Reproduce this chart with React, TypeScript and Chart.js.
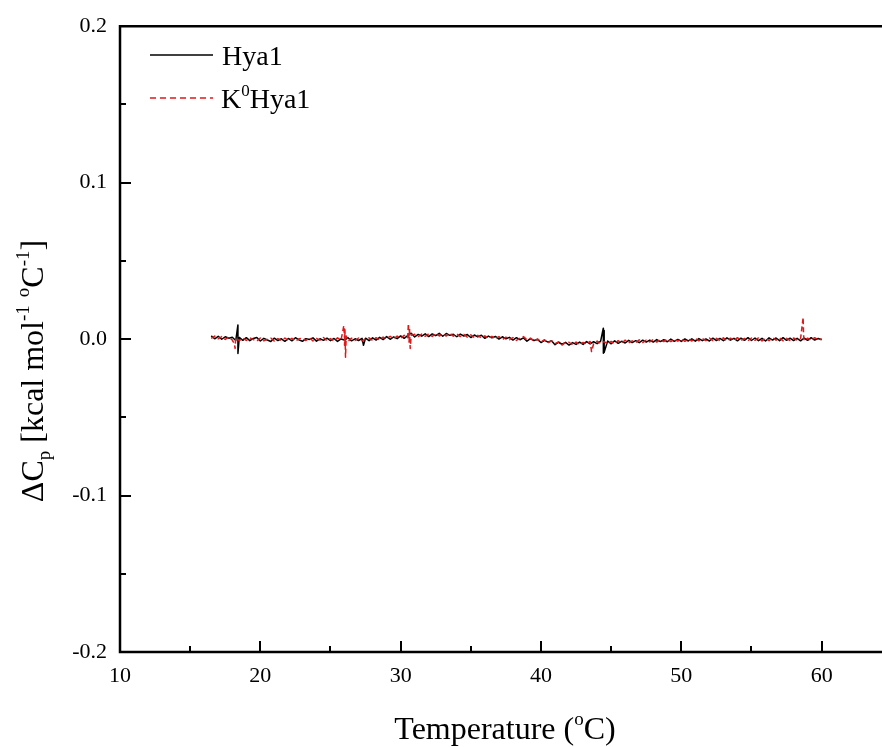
import React, { useEffect, useRef } from "react";
import { Chart, registerables } from "chart.js";

Chart.register(...registerables);

// ---------- data (ΔCp in 10^-3 kcal mol^-1 °C^-1, converted when building) ----------
const temps = [
  16.5, 16.75,
  17, 17.25, 17.5, 17.75, 18, 18.25, 18.5, 18.75, 19, 19.25, 19.5, 19.75,
  20, 20.25, 20.5, 20.75, 21, 21.25, 21.5, 21.75, 22, 22.25, 22.5, 22.75,
  23, 23.25, 23.5, 23.75, 24, 24.25, 24.5, 24.75, 25, 25.25, 25.5, 25.75,
  26, 26.25, 26.5, 26.75, 27, 27.25, 27.5, 27.75, 28, 28.25, 28.5, 28.75,
  29, 29.25, 29.5, 29.75, 30, 30.25, 30.5, 30.75, 31, 31.25, 31.5, 31.75,
  32, 32.25, 32.5, 32.75, 33, 33.25, 33.5, 33.75, 34, 34.25, 34.5, 34.75,
  35, 35.25, 35.5, 35.75, 36, 36.25, 36.5, 36.75, 37, 37.25, 37.5, 37.75,
  38, 38.25, 38.5, 38.75, 39, 39.25, 39.5, 39.75, 40, 40.25, 40.5, 40.75,
  41, 41.25, 41.5, 41.75, 42, 42.25, 42.5, 42.75, 43, 43.25, 43.5, 43.75,
  44, 44.25, 44.5, 44.75, 45, 45.25, 45.5, 45.75, 46, 46.25, 46.5, 46.75,
  47, 47.25, 47.5, 47.75, 48, 48.25, 48.5, 48.75, 49, 49.25, 49.5, 49.75,
  50, 50.25, 50.5, 50.75, 51, 51.25, 51.5, 51.75, 52, 52.25, 52.5, 52.75,
  53, 53.25, 53.5, 53.75, 54, 54.25, 54.5, 54.75, 55, 55.25, 55.5, 55.75,
  56, 56.25, 56.5, 56.75, 57, 57.25, 57.5, 57.75, 58, 58.25, 58.5, 58.75,
  59, 59.25, 59.5, 59.75,
  60,
];

const hya1Milli = [
  2.1, 0.2,
  1.8, -0.1, 1.5, 0.6, 1.2, -0.9, 1.1, -0.8, 0.9, -1.0, 0.4, 1.0,
  -1.2, 0.5, -0.6, -1.5, 0.6, -0.9, 0.2, -1.4, 0.4, -1.1, 0.9, -0.5,
  -1.4, 0.3, -0.2, 0.8, -1.3, 0.2, -0.8, 0.6, -1.0, 0.4, -1.5, 0.1,
  -0.6, 0.9, -1.1, 0.2, -0.9, 0.5, 0.6, -1.0, 0.8, -0.6, 1.1, -0.3,
  1.6, -0.1, 1.4, 0.3, 2.0, 0.5, 2.2, 3.8, 1.4, 3.0, 1.9, 3.4,
  1.6, 3.3, 2.2, 3.7, 1.8, 3.6, 2.4, 3.1, 1.5, 3.2, 2.0, 2.9,
  1.0, 2.6, 1.4, 2.5, 0.5, 1.9, 0.8, 1.7, 0.0, 1.5, 0.2, 1.1,
  -0.6, 0.9, -0.4, 0.8, -1.3, 0.3, -0.9, -0.2, -2.2, -0.8, -1.9, -1.0,
  -3.6, -2.0, -3.3, -2.1, -3.8, -2.2, -3.4, -1.9, -3.4, -1.6, -3.1, -1.7,
  -2.9, -1.3, -2.6, -1.2, -3.0, -1.1, -2.7, -1.4, -2.5, -0.8, -2.2, -1.0,
  -2.3, -0.7, -1.9, -0.6, -1.9, -0.3, -1.6, -0.4, -1.7, 0.0, -1.4, -0.2,
  -1.5, 0.1, -1.2, 0.2, -1.3, 0.3, -1.0, 0.1, -1.2, 0.6, -0.9, 0.4,
  -1.0, 0.8, -0.7, 0.5, -1.1, 0.6, -0.8, 0.9, -0.9, 0.7, -1.0, 0.5,
  -1.2, 0.8, -0.6, 0.7, -1.0, 0.9, -0.8, 0.6, -0.9, 0.5, -1.1, 0.7,
  -0.8, 0.9, -0.6, 0.4,
  -0.4,
];

const k0Hya1Milli = [
  0.4, 1.9,
  0.2, 1.6, -0.2, 1.3, -0.6, 1.0, -1.0, 0.7, -0.9, 0.8, -0.3, -1.3,
  0.7, -1.1, -0.2, 0.6, -1.3, 0.3, -0.8, 0.7, -1.0, 0.5, -1.4, 0.2,
  0.6, -0.9, 0.9, -1.2, 0.4, -0.7, 1.0, -1.1, 0.3, -1.2, 0.8, -0.7,
  1.2, -1.4, 0.6, -0.9, 0.7, -1.1, 0.2, 0.8, -0.8, 0.9, -0.5, 1.3,
  0.2, 1.8, 0.0, 1.9, 0.6, 2.4, 0.9, 2.3, 3.1, 1.6, 3.2, 1.8,
  3.4, 1.7, 3.6, 2.0, 3.2, 2.0, 3.8, 1.9, 3.3, 1.6, 3.0, 1.3,
  2.7, 1.0, 2.4, 0.7, 2.1, 0.4, 1.8, 0.1, 1.6, -0.3, 1.2, -0.4,
  1.0, -0.9, 0.7, 1.6, -0.5, 0.6, -1.4, 0.1, -1.7, -0.4, -2.4, -1.1,
  -2.9, -1.8, -3.8, -2.2, -2.0, -3.7, -1.9, -3.5, -2.1, -3.2, -1.5, -3.0,
  -1.3, -2.8, -1.6, -3.1, -1.5, -2.9, -1.0, -2.6, -0.7, -2.4, -1.1, -2.1,
  -0.5, -2.2, -0.6, -1.8, -0.2, -1.9, -0.4, -1.6, 0.1, -1.6, -0.3, -1.3,
  0.2, -1.4, 0.0, -1.2, 0.4, -1.1, 0.3, -1.0, 0.7, -1.0, 0.5, -0.9,
  0.8, -1.2, 0.6, -0.8, 0.9, -0.9, 0.4, -1.1, 0.7, -0.8, 0.8, -1.2,
  0.6, -1.0, 0.9, -0.7, 0.8, -1.1, 0.5, -0.9, 0.7, -0.6, 0.4, -1.0,
  0.6, -0.8, 0.9, -0.5,
  0.2,
];

// sharp spikes in the traces
const hya1SpikeTemps = [18.4, 18.405, 27.35, 44.44, 44.445, 44.5, 44.505];
const hya1SpikeMilli = [9.0, -9.2, -4.0, 7.0, -9.0, 5.5, -8.5];

const k0SpikeTemps = [18.15, 18.2, 25.95, 26.0, 26.03, 26.07, 26.12, 30.55, 30.6, 30.63, 30.68, 43.6, 58.68, 58.71];
const k0SpikeMilli = [-3.0, -6.0, 8.6, -4.0, 6.0, -11.6, 2.0, 9.9, -2.0, 7.0, -6.0, -8.0, 13.9, 3.0];

const seriesNames = ["Hya1", "K0Hya1"];

// axes
const xMin = 10;
const xMax = 64.3;
const xTickValues = [10, 20, 30, 40, 50, 60];
const xMinorTicks = [15, 25, 35, 45, 55];
const yMin = -0.2;
const yMax = 0.2;
const yTickValues = [-0.2, -0.1, 0.0, 0.1, 0.2];
const yMinorTicks = [-0.15, -0.05, 0.05, 0.15];

const SERIF = '"Liberation Serif", "Times New Roman", serif';

function buildPoints(t: number[], v: number[], st: number[], sv: number[]) {
  const pts = t.map((x, i) => ({ x, y: v[i] / 1000 }));
  st.forEach((x, i) => pts.push({ x, y: sv[i] / 1000 }));
  pts.sort((a, b) => a.x - b.x);
  return pts;
}

type Part = { text: string; size: number; dy: number };

function richWidth(ctx: CanvasRenderingContext2D, parts: Part[]) {
  let w = 0;
  for (const p of parts) {
    ctx.font = `${p.size}px ${SERIF}`;
    w += ctx.measureText(p.text).width;
  }
  return w;
}

function drawRich(ctx: CanvasRenderingContext2D, parts: Part[], x: number, y: number) {
  let cx = x;
  for (const p of parts) {
    ctx.font = `${p.size}px ${SERIF}`;
    ctx.fillText(p.text, cx, y + p.dy);
    cx += ctx.measureText(p.text).width;
  }
}

const framePlugin = {
  id: "frame",
  afterDraw(chart: any) {
    const { ctx, chartArea, scales } = chart;
    const { left, right, top, bottom } = chartArea;
    const xs = scales.x;
    const ys = scales.y;
    ctx.save();
    ctx.strokeStyle = "#000";
    ctx.lineWidth = 2.5;
    ctx.lineCap = "square";
    ctx.beginPath();
    ctx.moveTo(right + 2, top);
    ctx.lineTo(left, top);
    ctx.lineTo(left, bottom);
    ctx.lineTo(right + 2, bottom);
    ctx.stroke();
    ctx.lineCap = "butt";
    ctx.lineWidth = 2;
    ctx.beginPath();
    for (const v of xTickValues) {
      const px = Math.round(xs.getPixelForValue(v));
      ctx.moveTo(px, bottom);
      ctx.lineTo(px, bottom - 11);
    }
    for (const v of xMinorTicks) {
      const px = Math.round(xs.getPixelForValue(v));
      ctx.moveTo(px, bottom);
      ctx.lineTo(px, bottom - 6);
    }
    for (const v of yTickValues) {
      const py = Math.round(ys.getPixelForValue(v));
      ctx.moveTo(left, py);
      ctx.lineTo(left + 11, py);
    }
    for (const v of yMinorTicks) {
      const py = Math.round(ys.getPixelForValue(v));
      ctx.moveTo(left, py);
      ctx.lineTo(left + 6, py);
    }
    ctx.stroke();

    // legend
    ctx.fillStyle = "#000";
    ctx.textBaseline = "alphabetic";
    ctx.textAlign = "left";
    ctx.lineWidth = 1.5;
    ctx.strokeStyle = "#000";
    ctx.beginPath();
    ctx.moveTo(150, 55);
    ctx.lineTo(213, 55);
    ctx.stroke();
    ctx.strokeStyle = "#e0181b";
    ctx.setLineDash([6, 4]);
    ctx.beginPath();
    ctx.moveTo(150, 98);
    ctx.lineTo(213, 98);
    ctx.stroke();
    ctx.setLineDash([]);
    drawRich(ctx, [{ text: seriesNames[0], size: 28, dy: 0 }], 222, 65);
    drawRich(
      ctx,
      [
        { text: "K", size: 28, dy: 0 },
        { text: "0", size: 17, dy: -12 },
        { text: "Hya1", size: 28, dy: 0 },
      ],
      221,
      108
    );

    // x title
    const xParts: Part[] = [
      { text: "Temperature (", size: 32, dy: 0 },
      { text: "o", size: 19, dy: -14 },
      { text: "C)", size: 32, dy: 0 },
    ];
    const xw = richWidth(ctx, xParts);
    drawRich(ctx, xParts, 505 - xw / 2, 739);

    // y title
    const yParts: Part[] = [
      { text: "\u0394C", size: 32, dy: 0 },
      { text: "p", size: 19, dy: 7 },
      { text: " [kcal mol", size: 32, dy: 0 },
      { text: "-1", size: 19, dy: -14 },
      { text: " ", size: 32, dy: 0 },
      { text: "o", size: 19, dy: -14 },
      { text: "C", size: 32, dy: 0 },
      { text: "-1", size: 19, dy: -14 },
      { text: "]", size: 32, dy: 0 },
    ];
    ctx.translate(43, 371);
    ctx.rotate(-Math.PI / 2);
    const yw = richWidth(ctx, yParts);
    drawRich(ctx, yParts, -yw / 2, 0);
    ctx.restore();
  },
};

export default function App() {
  const ref = useRef<HTMLCanvasElement | null>(null);

  useEffect(() => {
    if (!ref.current) return;
    const chart = new Chart(ref.current, {
      type: "line",
      data: {
        datasets: [
          {
            label: seriesNames[0],
            data: buildPoints(temps, hya1Milli, hya1SpikeTemps, hya1SpikeMilli),
            borderColor: "#000000",
            borderWidth: 1.5,
            borderJoinStyle: "round",
            pointRadius: 0,
            tension: 0,
            fill: false,
            order: 2,
          },
          {
            label: seriesNames[1],
            data: buildPoints(temps, k0Hya1Milli, k0SpikeTemps, k0SpikeMilli),
            borderColor: "#e0181b",
            borderWidth: 1.5,
            borderJoinStyle: "round",
            borderDash: [5, 3],
            pointRadius: 0,
            tension: 0,
            fill: false,
            order: 1,
          },
        ],
      },
      options: {
        animation: false,
        responsive: false,
        devicePixelRatio: 1,
        parsing: false as any,
        layout: { padding: { top: 25, right: 0, left: 0, bottom: 0 } },
        plugins: { legend: { display: false }, tooltip: { enabled: false } },
        scales: {
          x: {
            type: "linear",
            min: xMin,
            max: xMax,
            grid: { display: false, drawTicks: false },
            border: { display: false },
            afterBuildTicks: (scale: any) => {
              scale.ticks = xTickValues.map((v) => ({ value: v }));
            },
            afterFit: (scale: any) => {
              scale.height = 95;
            },
            ticks: {
              padding: 11,
              color: "#000",
              font: { family: SERIF, size: 22 },
              maxRotation: 0,
              callback: (v: any) => String(v),
            },
          },
          y: {
            type: "linear",
            min: yMin,
            max: yMax,
            grid: { display: false, drawTicks: false },
            border: { display: false },
            afterBuildTicks: (scale: any) => {
              scale.ticks = yTickValues.map((v) => ({ value: v }));
            },
            afterFit: (scale: any) => {
              scale.width = 120;
            },
            ticks: {
              padding: 13,
              color: "#000",
              font: { family: SERIF, size: 22 },
              callback: (v: any) => Number(v).toFixed(1),
            },
          },
        },
      },
      plugins: [framePlugin],
    });
    return () => chart.destroy();
  }, []);

  return (
    <div style={{ position: "absolute", left: 0, top: 0, width: 882, height: 747, background: "#fff" }}>
      <canvas ref={ref} width={882} height={747} style={{ display: "block" }} />
    </div>
  );
}
